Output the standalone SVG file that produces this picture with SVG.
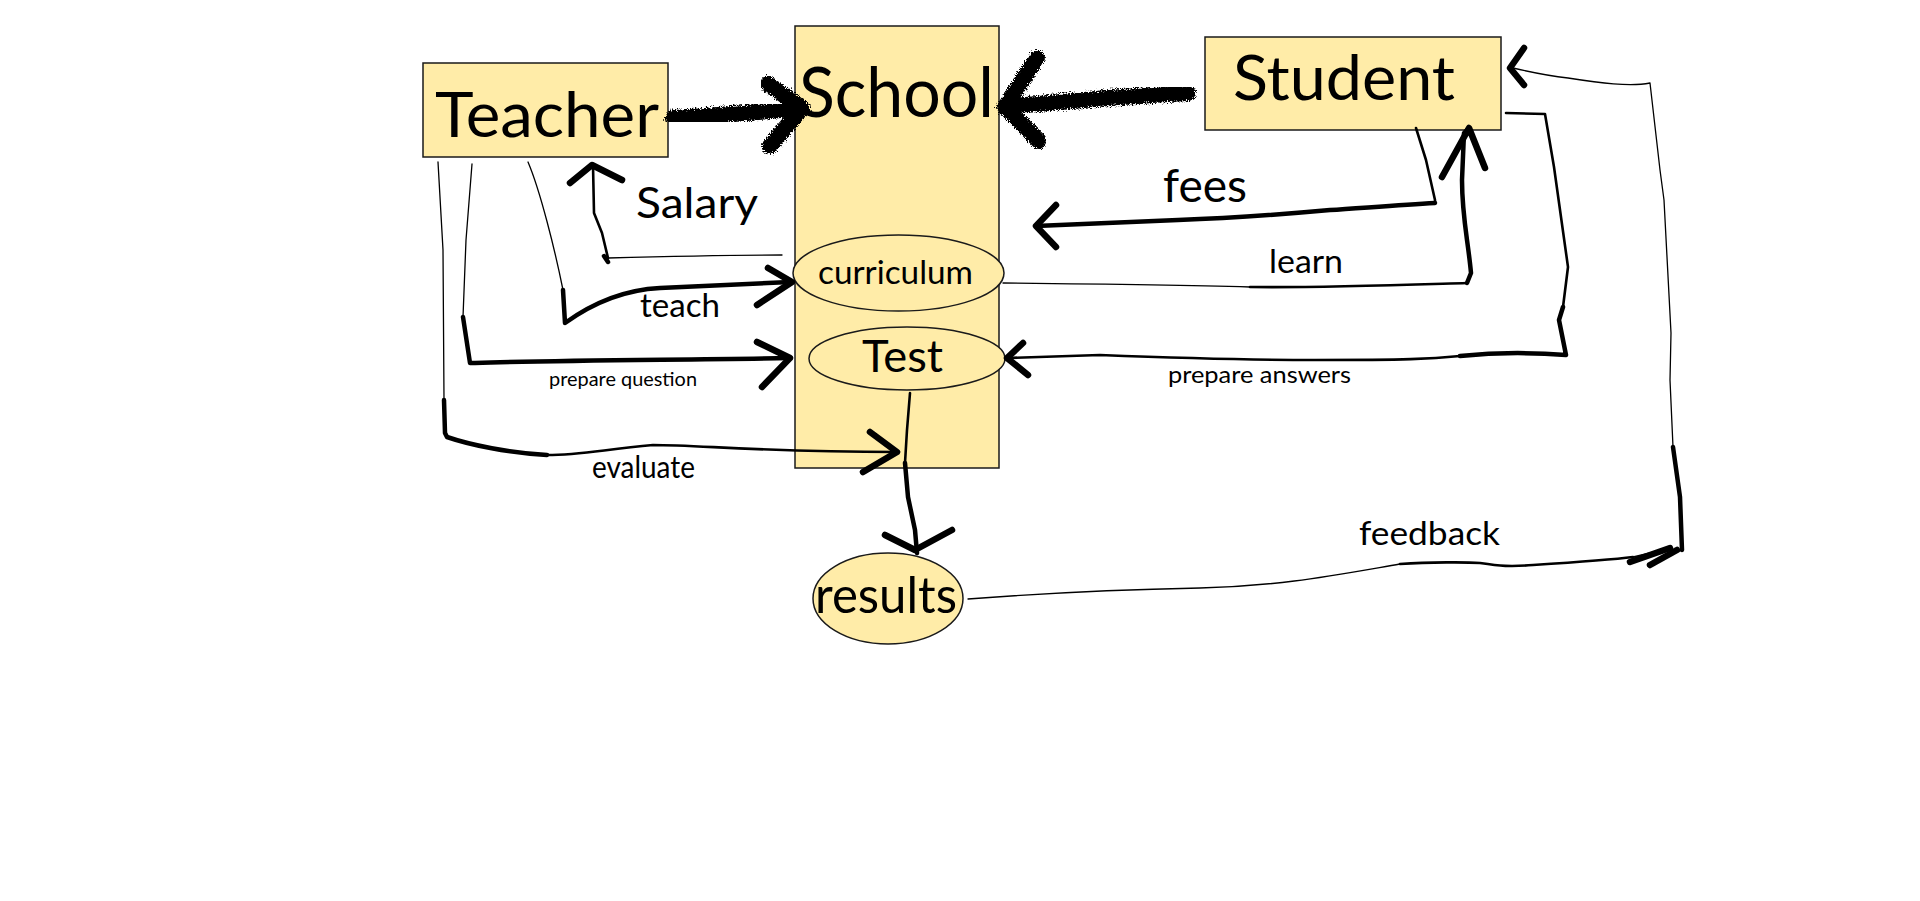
<svg xmlns="http://www.w3.org/2000/svg" width="1920" height="901" viewBox="0 0 1920 901">
<style>
.box{fill:#ffeca8;stroke:#1a1a1a;stroke-width:1.5}
.t{font-family:Lato,"Noto Sans",sans-serif;fill:#000}
.thin{fill:none;stroke:#000;stroke-width:1.3;stroke-linecap:round;stroke-linejoin:round}
.mid{fill:none;stroke:#000;stroke-width:2.6;stroke-linecap:round;stroke-linejoin:round}
.thick{fill:none;stroke:#000;stroke-width:4.5;stroke-linecap:round;stroke-linejoin:round}
.head{fill:none;stroke:#000;stroke-width:6.5;stroke-linecap:round;stroke-linejoin:round}
.fat{fill:none;stroke:#000;stroke-width:16;stroke-linecap:round;stroke-linejoin:round;filter:url(#fuzz)}
</style>
<defs>
<filter id="fuzz" x="-20%" y="-40%" width="140%" height="180%">
<feTurbulence type="fractalNoise" baseFrequency="0.95" numOctaves="2" seed="4" result="n"/>
<feDisplacementMap in="SourceGraphic" in2="n" scale="8" xChannelSelector="R" yChannelSelector="G"/>
</filter>
</defs>
<rect width="1920" height="901" fill="#fff"/>
<g id="school">
<rect class="box" x="795" y="26" width="204" height="442"/>
<text class="t" x="799" y="117" font-size="69" textLength="195" lengthAdjust="spacingAndGlyphs">School</text>
</g>
<g id="teacher">
<rect class="box" x="423" y="63" width="245" height="94"/>
<text class="t" x="435" y="137" font-size="61" textLength="224" lengthAdjust="spacingAndGlyphs">Teacher</text>
</g>
<g id="student">
<rect class="box" x="1205" y="37" width="296" height="93"/>
<text class="t" x="1233" y="100" font-size="62" textLength="222" lengthAdjust="spacingAndGlyphs">Student</text>
</g>
<g id="curriculum">
<ellipse class="box" cx="898.5" cy="273" rx="105.5" ry="38"/>
<text class="t" x="818" y="284" font-size="33" textLength="155" lengthAdjust="spacingAndGlyphs">curriculum</text>
</g>
<g id="test">
<ellipse class="box" cx="907" cy="358.5" rx="98" ry="31.5"/>
<text class="t" x="862" y="372" font-size="45" textLength="81" lengthAdjust="spacingAndGlyphs">Test</text>
</g>
<g id="results">
<ellipse class="box" cx="888" cy="598.5" rx="75" ry="45.5"/>
<text class="t" x="815" y="613" font-size="50" textLength="142" lengthAdjust="spacingAndGlyphs">results</text>
</g>
<g id="connectors">
<path class="fat" d="M673,118 C710,116 760,112 802,108"/>
<path class="fat" d="M768,84 L802,108 L770,146"/>
<path class="fat" d="M1188,93 C1120,96 1060,102 1005,107"/>
<path class="fat" d="M1037,58 L1005,107 L1039,141"/>
<path class="thin" d="M782,255 C740,255 680,256 608,258"/>
<path class="mid" d="M608,258 L602,233 L594,213 L593,165"/>
<path class="thick" d="M604,256 L608,262"/>
<path class="head" d="M570,183 L592,165 L622,180"/>
<path class="thin" d="M528,162 C540,190 555,250 563,290"/>
<path class="thick" d="M563,290 L565,323 C590,305 620,290 660,288 C700,286 740,284 790,282"/>
<path class="head" d="M768,268 L792,282 L757,305"/>
<path class="thin" d="M472,164 L466,240 L463,317"/>
<path class="thick" d="M463,317 L470,363 L475,363 C560,360 680,360 790,358"/>
<path class="head" d="M757,342 L790,358 L762,387"/>
<path class="thin" d="M438,162 L443,250 L444,400"/>
<path class="thick" d="M444,400 L445,433 L447,437 C470,445 510,453 547,455"/>
<path class="mid" d="M547,455 C580,455 600,450 653,445 C700,445 760,452 897,452"/>
<path class="head" d="M870,432 L897,452 L863,472"/>
<path class="mid" d="M910,393 L907,430 L905,463"/>
<path class="thick" d="M905,463 L908,497 L915,530 L917,553"/>
<path class="head" d="M885,535 L915,550 L952,530"/>
<path class="mid" d="M1416,128 L1426,160 L1435,200 L1435,203"/>
<path class="thick" d="M1435,203 C1400,205 1361,208 1330,210 C1297,213 1240,218 1178,220 L1036,226"/>
<path class="head" d="M1056,205 L1036,226 L1056,247"/>
<path class="thin" d="M1003,283 C1100,284 1178,285 1250,287"/>
<path class="mid" d="M1250,287 C1315,288 1400,285 1467,283"/>
<path class="thick" d="M1467,283 L1471,273 C1468,240 1462,217 1462,180 L1464,133 L1469,128"/>
<path class="head" d="M1442,177 L1469,128 L1485,168"/>
<path class="mid" d="M1506,113 L1545,114 L1554,167 L1568,267 L1563,307"/>
<path class="thick" d="M1563,307 L1559,320 L1566,355 C1540,353 1499,352 1460,356"/>
<path class="mid" d="M1460,356 C1430,359 1407,360 1315,360 C1250,360 1178,358 1100,355 L1007,358"/>
<path class="head" d="M1023,343 L1007,358 L1028,375"/>
<path class="thin" d="M968,599 C1020,595 1100,590 1200,588 C1280,586 1330,576 1400,564"/>
<path class="mid" d="M1400,564 C1430,562 1467,562 1480,563 C1500,566 1510,567 1533,565 C1580,562 1610,560 1633,557"/>
<path class="thin" d="M1633,557 L1667,549"/>
<path class="thin" d="M1513,68 C1530,72 1550,76 1568,78 C1600,83 1630,87 1650,83 L1660,170 L1664,200 L1671,333 L1670,380 L1673,447"/>
<path class="thick" d="M1673,447 L1680,497 L1682,550"/>
<path class="head" d="M1630,562 L1670,548"/>
<path class="head" d="M1650,565 L1677,550"/>
<path class="head" d="M1524,48 L1510,68 L1524,85"/>
</g>
<g id="labels">
<text class="t" x="636" y="218" font-size="43" textLength="122" lengthAdjust="spacingAndGlyphs">Salary</text>
<text class="t" x="640" y="317" font-size="32" textLength="80" lengthAdjust="spacingAndGlyphs">teach</text>
<text class="t" x="549" y="386" font-size="20" textLength="148" lengthAdjust="spacingAndGlyphs">prepare question</text>
<text class="t" x="592" y="478" font-size="30" textLength="103" lengthAdjust="spacingAndGlyphs">evaluate</text>
<text class="t" x="1163" y="202" font-size="46" textLength="84" lengthAdjust="spacingAndGlyphs">fees</text>
<text class="t" x="1269" y="273" font-size="33" textLength="74" lengthAdjust="spacingAndGlyphs">learn</text>
<text class="t" x="1168" y="383" font-size="24" textLength="183" lengthAdjust="spacingAndGlyphs">prepare answers</text>
<text class="t" x="1359" y="545" font-size="33" textLength="141" lengthAdjust="spacingAndGlyphs">feedback</text>
</g>
</svg>
